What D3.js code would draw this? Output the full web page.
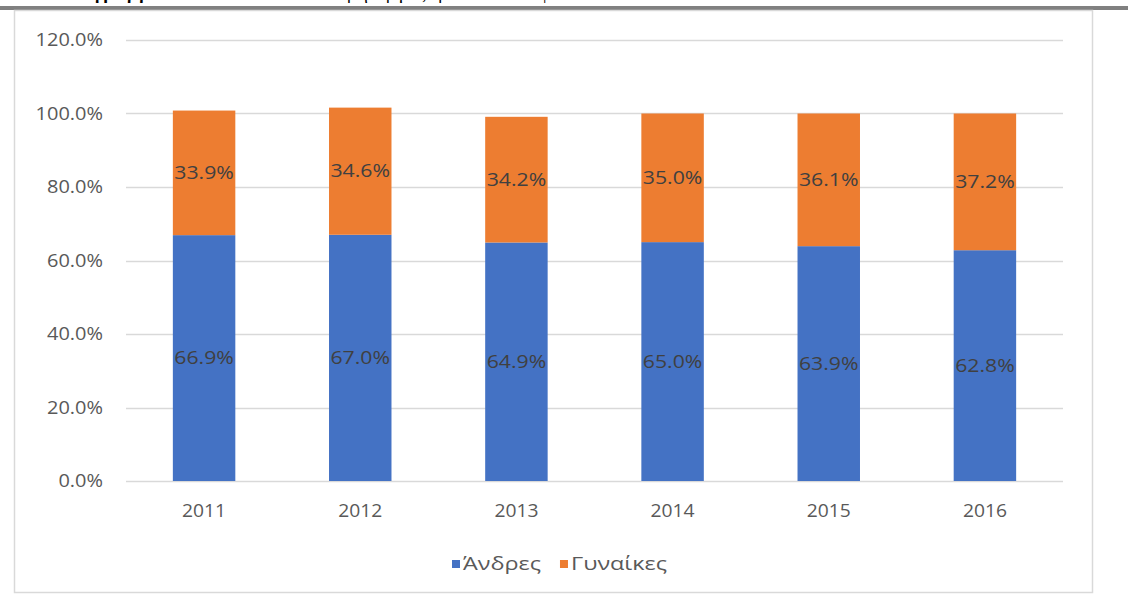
<!DOCTYPE html>
<html>
<head>
<meta charset="utf-8">
<script src="https://cdn.jsdelivr.net/npm/d3@7"></script>
<style>
    body { margin: 0; background: #fff; }
    svg { display: block; font-family: "Open Sans", sans-serif; }
</style>
</head>
<body>
<div id="chart"></div>
<script>
var years = ["2011", "2012", "2013", "2014", "2015", "2016"];
var men = [66.9, 67.0, 64.9, 65.0, 63.9, 62.8];
var women = [33.9, 34.6, 34.2, 35.0, 36.1, 37.2];
var seriesNames = ["Άνδρες", "Γυναίκες"];
var seriesColors = ["#4472C4", "#ED7D31"];
var yTicks = [0, 20, 40, 60, 80, 100, 120];

var width = 1128;
var height = 601;
var margin = { top: 40, right: 65, bottom: 120, left: 126 };

var svg = d3.select("#chart").append("svg")
    .attr("width", width)
    .attr("height", height);

// caption line above the chart, mostly cut off by the page edge
svg.append("text")
    .attr("x", 60)
    .attr("y", -1)
    .attr("font-family", "Liberation Serif, serif")
    .attr("font-size", 18)
    .attr("letter-spacing", 2)
    .attr("fill", "#000")
    .html("<tspan font-weight='bold'>Διάγραμμα</tspan> Ποσοστιαία κατανομή εργαζομένων ανά φύλο");

svg.append("rect")
    .attr("x", 0)
    .attr("y", 6)
    .attr("width", width)
    .attr("height", 4)
    .attr("fill", "#808080");

// chart border
svg.append("rect")
    .attr("x", 14.5)
    .attr("y", 10.5)
    .attr("width", 1078)
    .attr("height", 582)
    .attr("fill", "#fff")
    .attr("stroke", "#d9d9d9")
    .attr("stroke-width", 1.5);

var x = d3.scaleBand()
    .domain(years)
    .range([margin.left, width - margin.right])
    .paddingInner(0.6)
    .paddingOuter(0.3);

var y = d3.scaleLinear()
    .domain([0, 120])
    .range([height - margin.bottom, margin.top]);

// text drawn a bit wider than the font, like the stretched original
var wideText = function (sel, px, py, sx) {
    return sel.append("text")
        .attr("transform", "translate(" + px + "," + py + ") scale(" + sx + ",1)")
        .attr("font-size", 18);
}

// gridlines
svg.append("g")
    .selectAll("line")
    .data(yTicks)
    .enter().append("line")
    .attr("x1", margin.left)
    .attr("x2", width - margin.right)
    .attr("y1", function (d) { return Math.round(y(d)) + 0.5; })
    .attr("y2", function (d) { return Math.round(y(d)) + 0.5; })
    .attr("stroke", "#d9d9d9")
    .attr("stroke-width", 1.5);

// y tick labels
var yAxisG = svg.append("g");
yTicks.forEach(function (d) {
    wideText(yAxisG, 103, y(d), 1.11)
        .attr("dy", "0.35em")
        .attr("text-anchor", "end")
        .attr("fill", "#595959")
        .text(d.toFixed(1) + "%");
});

// x tick labels
var xAxisG = svg.append("g");
years.forEach(function (d) {
    wideText(xAxisG, x(d) + x.bandwidth() / 2, 517, 1.07)
        .attr("text-anchor", "middle")
        .attr("fill", "#595959")
        .text(d);
});

var rows = years.map(function (yr, i) {
    return { year: yr, men: men[i], women: women[i] };
});
var stack = d3.stack().keys(["men", "women"]);
var layers = stack(rows);

var layerG = svg.selectAll(".layer")
    .data(layers)
    .enter().append("g")
    .attr("class", "layer")
    .attr("fill", function (d, i) { return seriesColors[i]; });

layerG.selectAll("rect")
    .data(function (d) { return d; })
    .enter().append("rect")
    .attr("x", function (d) { return x(d.data.year); })
    .attr("y", function (d) { return y(d[1]); })
    .attr("width", x.bandwidth())
    .attr("height", function (d) { return y(d[0]) - y(d[1]); });

// data labels
var labelG = svg.append("g");
layers.forEach(function (layer) {
    layer.forEach(function (p) {
        wideText(labelG, x(p.data.year) + x.bandwidth() / 2, y((p[0] + p[1]) / 2), 1.18)
            .attr("dy", "0.35em")
            .attr("text-anchor", "middle")
            .attr("fill", "#404040")
            .text(p.data[layer.key].toFixed(1) + "%");
    });
});

// legend
var legend = svg.append("g").attr("transform", "translate(452,564)");
var lx = 0;
seriesNames.forEach(function (name, i) {
    legend.append("rect")
        .attr("x", lx)
        .attr("y", -4)
        .attr("width", 8)
        .attr("height", 8)
        .attr("fill", seriesColors[i]);
    var t = wideText(legend, lx + 11, 0, 1.3)
        .attr("dy", "0.35em")
        .attr("fill", "#595959")
        .text(name);
    lx += 11 + t.node().getComputedTextLength() * 1.3 + 19;
});
</script>
</body>
</html>
